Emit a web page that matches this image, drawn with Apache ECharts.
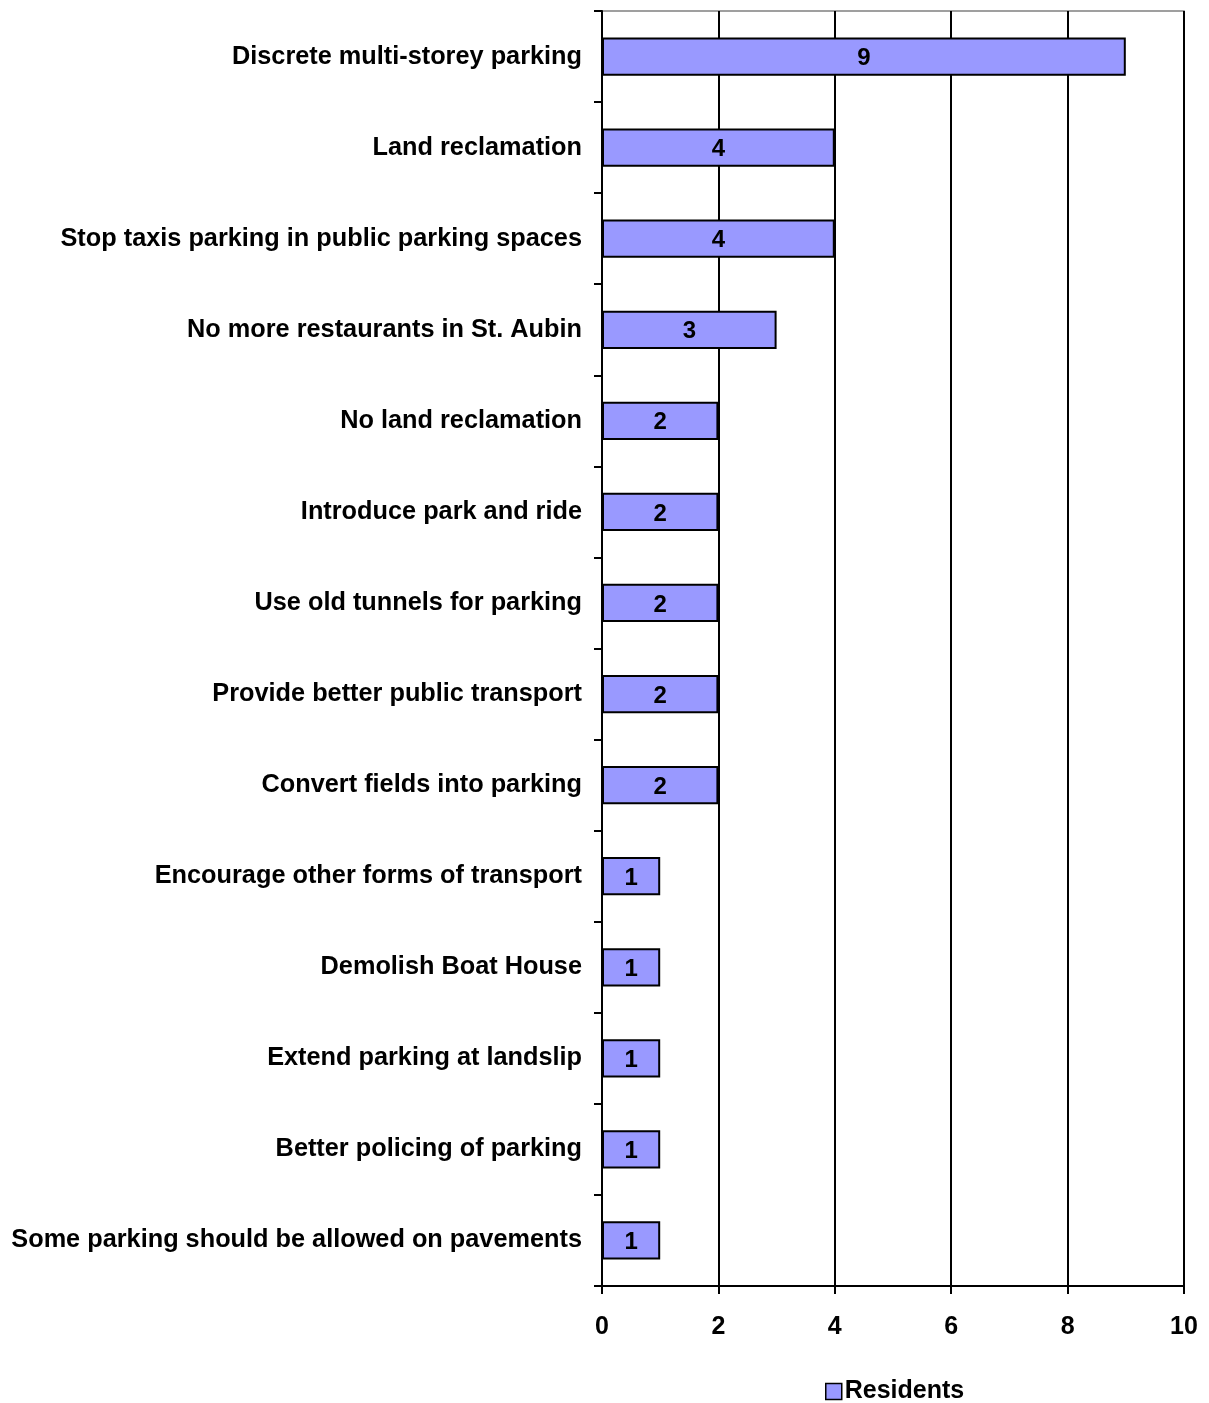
<!DOCTYPE html>
<html><head><meta charset="utf-8">
<script src="https://cdn.jsdelivr.net/npm/echarts@6/dist/echarts.min.js"></script>
<style>html,body{margin:0;padding:0;background:#fff}#c{width:1209px;height:1403px}</style>
</head><body><div id="c"></div>
<script>
const categories = [
  "Discrete multi-storey parking",
  "Land reclamation",
  "Stop taxis parking in public parking spaces",
  "No more restaurants in St. Aubin",
  "No land reclamation",
  "Introduce park and ride",
  "Use old tunnels for parking",
  "Provide better public transport",
  "Convert fields into parking",
  "Encourage other forms of transport",
  "Demolish Boat House",
  "Extend parking at landslip",
  "Better policing of parking",
  "Some parking should be allowed on pavements"
];
const residents = [9, 4, 4, 3, 2, 2, 2, 2, 2, 1, 1, 1, 1, 1];
const xTicks = [0, 2, 4, 6, 8, 10];

const font = "'Liberation Sans', Arial, sans-serif";
const chart = echarts.init(document.getElementById('c'));
chart.setOption({
  animation: false,
  backgroundColor: '#fff',
  textStyle: { fontFamily: font },
  grid: { left: 602, right: 25, top: 11, bottom: 117, containLabel: false,
          show: true, borderColor: '#808080', borderWidth: 1.5 },
  legend: {
    top: 1374, left: 820, icon: 'rect',
    itemWidth: 16, itemHeight: 16, itemGap: 4,
    textStyle: { fontFamily: font, fontWeight: 'bold', fontSize: 25, color: '#000', padding: [0, 0, 0, -2] },
    data: [{ name: 'Residents', itemStyle: { color: '#9999FF', borderColor: '#000', borderWidth: 1.5 } }]
  },
  xAxis: {
    type: 'value', min: xTicks[0], max: xTicks[xTicks.length - 1], interval: 2,
    axisLine: { show: true, lineStyle: { color: '#000', width: 2 } },
    axisTick: { show: true, length: 8, lineStyle: { color: '#000', width: 2 } },
    axisLabel: { color: '#000', fontWeight: 'bold', fontSize: 25, margin: 29, fontFamily: font },
    splitLine: { show: true, lineStyle: { color: '#000', width: 2 } }
  },
  yAxis: {
    type: 'category', data: categories, inverse: true,
    axisLine: { show: true, lineStyle: { color: '#000', width: 2 } },
    axisTick: { show: true, length: 8, lineStyle: { color: '#000', width: 2 } },
    axisLabel: { color: '#000', fontWeight: 'bold', fontSize: 25.3, margin: 20, fontFamily: font, padding: [9, 0, 0, 0] },
    splitLine: { show: false }
  },
  series: [{
    name: 'Residents', type: 'bar', data: residents,
    barCategoryGap: '58%',
    itemStyle: { color: '#9999FF', borderColor: '#000', borderWidth: 2 },
    label: { show: true, position: 'inside', offset: [0, 2], color: '#000', fontWeight: 'bold', fontSize: 24, fontFamily: font }
  }]
});
</script></body></html>
